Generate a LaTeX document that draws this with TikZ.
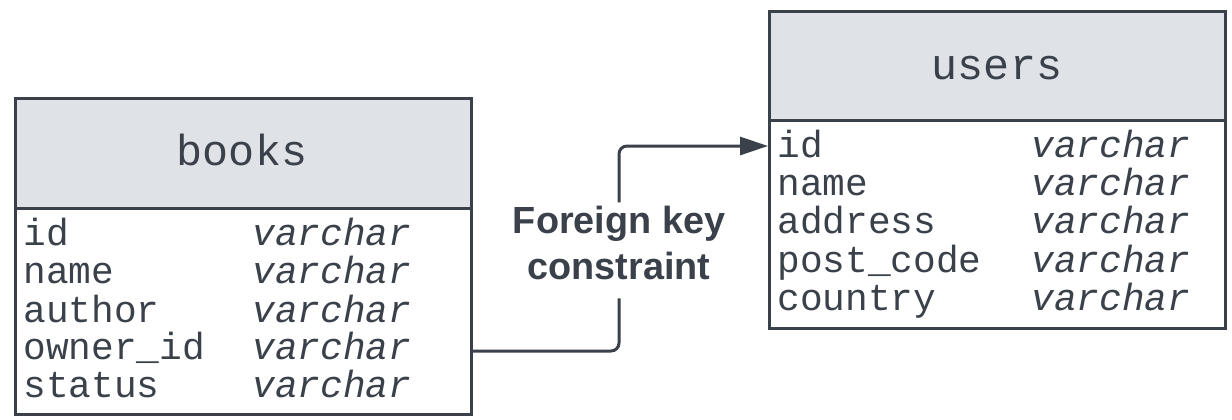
\documentclass[tikz,border=0pt]{standalone}
\usepackage{fontspec}
\setmainfont{Liberation Sans}
\newfontfamily\tabmono{Liberation Mono}
\usetikzlibrary{arrows.meta}
\definecolor{ink}{HTML}{3A414A}
\definecolor{headfill}{HTML}{DFE3E8}
\begin{document}
\begin{tikzpicture}[x=0.5pt,y=-0.5pt,
  tbl/.style={draw=ink, line width=1.5pt, minimum width=228pt, inner sep=0, anchor=north west},
  tabhead/.style={tbl, fill=headfill},
  tabtitle/.style={font=\tabmono\fontsize{21.7}{26}\selectfont, text=ink, anchor=base, inner sep=0},
  fieldtxt/.style={font=\tabmono\fontsize{18.9}{19}\selectfont, text=ink, anchor=base west, inner sep=0},
  ftype/.style={fieldtxt, font=\tabmono\itshape\fontsize{18.9}{19}\selectfont},
  conn/.style={draw=ink, line width=1.5pt, rounded corners=4pt},
  fklabel/.style={font=\bfseries\fontsize{18.9}{23}\selectfont, text=ink, align=center, inner sep=0}
]
\useasboundingbox (0,0) rectangle (1232,419);
% books table
\node[tabhead, minimum height=55pt] (bookshead) at (14,97) {};
\node[tbl, minimum height=103pt] (booksbody) at (14,207) {};
\node[tabtitle] (bookstitle) at (242,165) {books};
\node[fieldtxt] (b1) at (23,245) {id};
\node[fieldtxt] (b2) at (23,283) {name};
\node[fieldtxt] (b3) at (23,322) {author};
\node[fieldtxt] (b4) at (23,359) {owner\_id};
\node[fieldtxt] (b5) at (23,397) {status};
\node[ftype] (bt1) at (252,245) {varchar};
\node[ftype] (bt2) at (252,283) {varchar};
\node[ftype] (bt3) at (252,322) {varchar};
\node[ftype] (bt4) at (252,359) {varchar};
\node[ftype] (bt5) at (252,397) {varchar};
% users table
\node[tabhead, minimum height=54.5pt] (usershead) at (768,10) {};
\node[tbl, minimum height=104pt] (usersbody) at (768,119) {};
\node[tabtitle] (userstitle) at (997,79) {users};
\node[fieldtxt] (u1) at (777,157) {id};
\node[fieldtxt] (u2) at (777,195) {name};
\node[fieldtxt] (u3) at (777,233) {address};
\node[fieldtxt] (u4) at (777,272) {post\_code};
\node[fieldtxt] (u5) at (777,310) {country};
\node[ftype] (ut1) at (1031,157) {varchar};
\node[ftype] (ut2) at (1031,195) {varchar};
\node[ftype] (ut3) at (1031,233) {varchar};
\node[ftype] (ut4) at (1031,272) {varchar};
\node[ftype] (ut5) at (1031,310) {varchar};
% connector
\node[fklabel] (fk) at (619,243) {Foreign key\\constraint};
\draw[conn] (booksbody.east |- 0,351) -| ([yshift=-9pt]fk.south);
\draw[conn, -{Triangle[length=14pt,width=9pt]}] ([yshift=1.7pt]fk.north) |- (usersbody.west |- 0,146);
\end{tikzpicture}
\end{document}
